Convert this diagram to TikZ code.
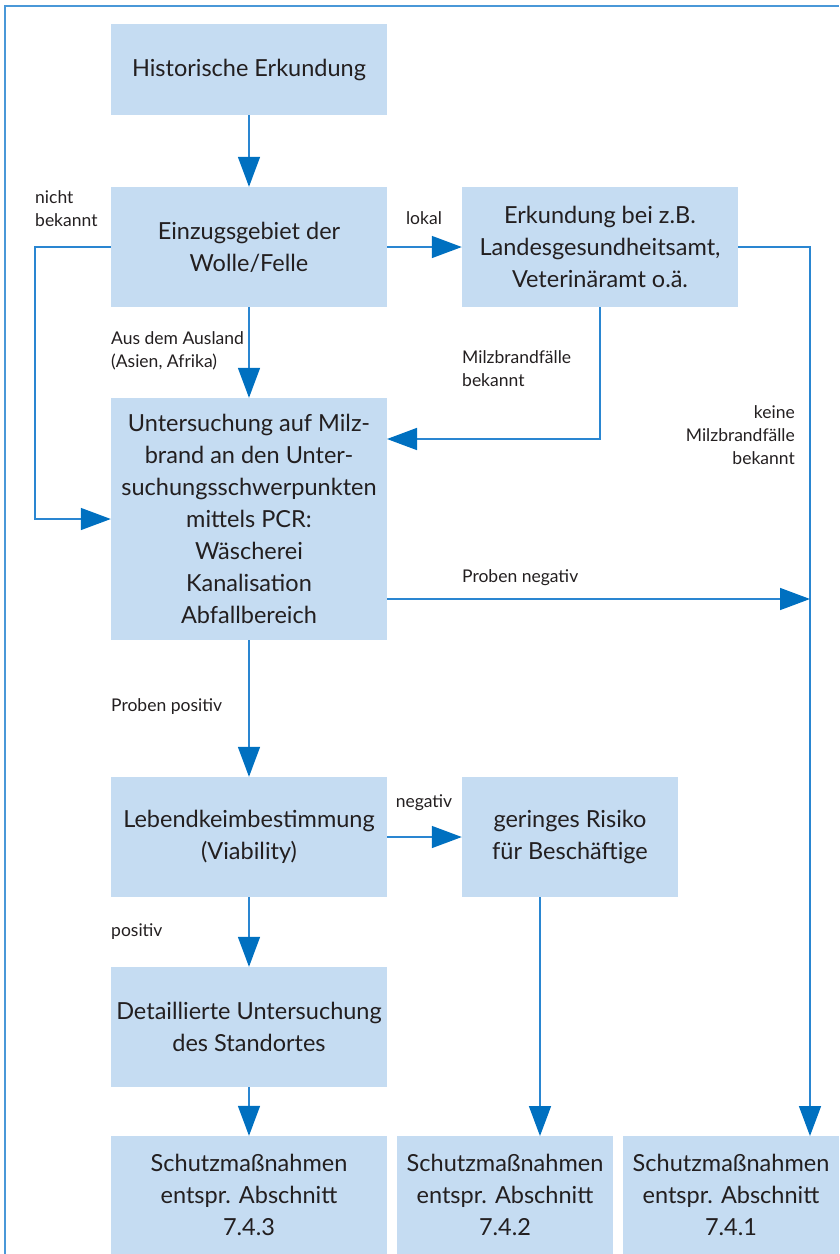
\documentclass[tikz,border=0pt]{standalone}
\usepackage{fontspec}
\setmainfont{Lato}
\usetikzlibrary{arrows.meta}
\definecolor{boxblue}{HTML}{C5DCF2}
\definecolor{lineblue}{HTML}{2A86D1}
\definecolor{tipblue}{HTML}{0070C0}
\definecolor{txt}{HTML}{231F20}
\begin{document}
\begin{tikzpicture}[x=1pt,y=-1pt,
  stepbox/.style={fill=boxblue,draw=none,inner sep=0pt,align=center,text=txt,
    font=\fontsize{23.5}{32}\selectfont,minimum width=276pt},
  ln/.style={draw=lineblue,line width=1.5pt},
  arr/.style={ln,-{Triangle[length=30pt,width=22pt,fill=tipblue,color=tipblue]}},
  lbl/.style={inner sep=0pt,text=txt,font=\fontsize{17.5}{23}\selectfont}]
\useasboundingbox (0,0) rectangle (839,1254);
\draw[draw=lineblue!85,line width=2pt] (5,1254) -- (5,6) -- (839,6);
% boxes
\node[stepbox,minimum height=91pt] (h) at (249,69.5) {Historische Erkundung};
\node[stepbox,minimum height=120pt] (e) at (249,247) {Einzugsgebiet der\\Wolle/Felle};
\node[stepbox,minimum height=120pt] (k) at (600,247) {Erkundung bei z.B.\\Landesgesundheitsamt,\\Veterinäramt o.ä.};
\node[stepbox,minimum height=242pt] (u) at (249,519) {Untersuchung auf Milz-\\brand an den Unter-\\suchungsschwerpunkten\\mittels PCR:\\Wäscherei\\Kanalisation\\Abfallbereich};
\node[stepbox,minimum height=120pt] (l) at (249,837) {Lebendkeimbestimmung\\(Viability)};
\node[stepbox,minimum height=120pt,minimum width=216pt] (g) at (570,837) {geringes Risiko\\für Beschäftige};
\node[stepbox,minimum height=120pt] (d) at (249,1027) {Detaillierte Untersuchung\\des Standortes};
\node[stepbox,minimum height=118pt] (s1) at (249,1195) {Schutzmaßnahmen\\entspr. Abschnitt\\7.4.3};
\node[stepbox,minimum height=118pt,minimum width=216pt] (s2) at (505,1195) {Schutzmaßnahmen\\entspr. Abschnitt\\7.4.2};
\node[stepbox,minimum height=118pt,minimum width=216pt] (s3) at (731,1195) {Schutzmaßnahmen\\entspr. Abschnitt\\7.4.1};
% helper coordinates
\coordinate (kin) at (387,439);
\coordinate (rt) at (810,599);
\coordinate (rb) at (810,1136);
\coordinate (ul) at (35,247);
\coordinate (uneg) at (387,599);
\coordinate (gx) at (540,897);
\coordinate (s2x) at (540,1136);
% connectors
\draw[arr] (h.south) -- (e.north);
\draw[arr] (e.east) -- (k.west);
\draw[arr] (e.south) -- (u.north);
\draw[arr] (e.west) -- (ul) |- (u.west);
\draw[arr] (k.south) |- (kin);
\draw[ln] (k.east) -| (rt);
\draw[arr] (rt) -- (rb);
\draw[arr] (uneg) -- (rt);
\draw[arr] (u.south) -- (l.north);
\draw[arr] (l.east) -- (g.west);
\draw[arr] (l.south) -- (d.north);
\draw[arr] (d.south) -- (s1.north);
\draw[arr] (gx) -- (s2x);
% labels
\node[lbl,anchor=center] (t1) at (424,218) {lokal};
\node[lbl,anchor=west,align=left] (t2) at (35,209) {nicht\\bekannt};
\node[lbl,anchor=west,align=left] (t3) at (111,351) {Aus dem Ausland\\(Asien, Afrika)};
\node[lbl,anchor=west,align=left] (t4) at (462,369) {Milzbrandfälle\\bekannt};
\node[lbl,anchor=east,align=right] (t5) at (795,435) {keine\\Milzbrandfälle\\bekannt};
\node[lbl,anchor=west] (t6) at (462,578) {Proben negativ};
\node[lbl,anchor=west] (t7) at (111,707) {Proben positiv};
\node[lbl,anchor=center] (t8) at (424,803) {negativ};
\node[lbl,anchor=west] (t9) at (111,932) {positiv};
\end{tikzpicture}
\end{document}
